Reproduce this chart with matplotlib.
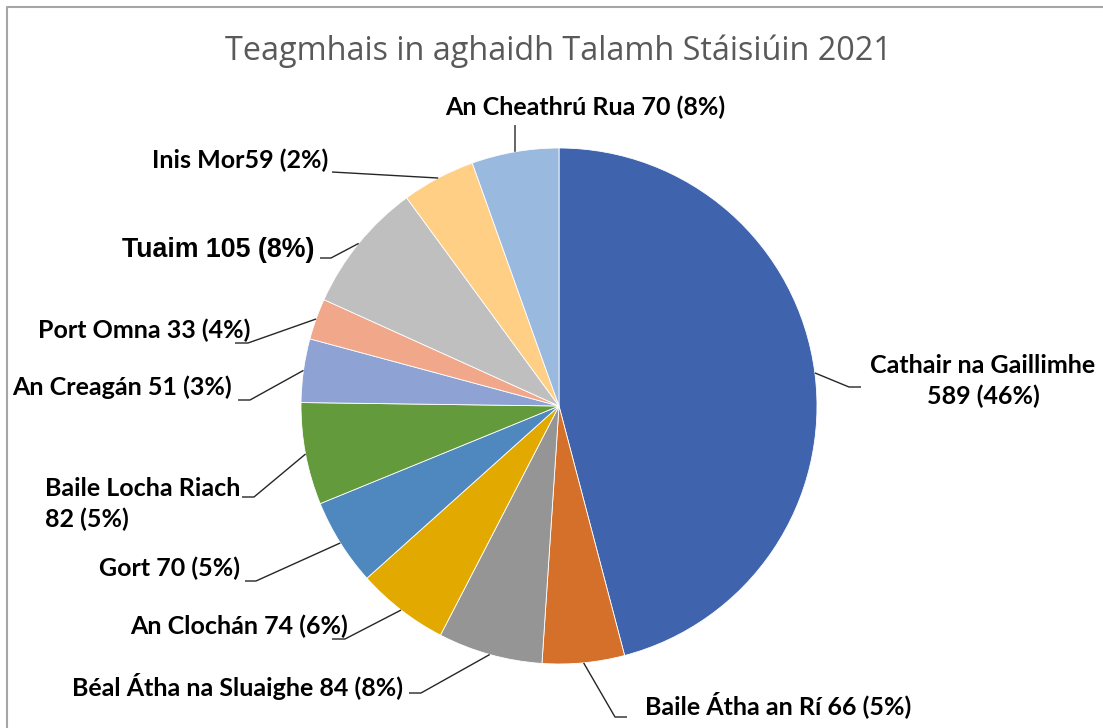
import numpy as np
import matplotlib.pyplot as plt
from matplotlib.lines import Line2D

# incidents per station ground, 2021
stations = ['Cathair na Gaillimhe', 'Baile Átha an Rí', 'Béal Átha na Sluaighe',
            'An Clochán', 'Gort', 'Baile Locha Riach', 'An Creagán', 'Port Omna',
            'Tuaim', 'Inis Mor', 'An Cheathrú Rua']
incidents = [589, 66, 84, 74, 70, 82, 51, 33, 105, 59, 70]
pct_text = ['46%', '5%', '8%', '6%', '5%', '5%', '3%', '4%', '8%', '2%', '8%']
name_sep = ['\n', ' ', ' ', ' ', ' ', '\n', ' ', ' ', ' ', '', ' ']
colours = ['#3F64AD', '#D5702B', '#959595', '#E2A900', '#4E88BE', '#639A3C',
           '#8EA2D3', '#F0A78A', '#BFBFBF', '#FFCF86', '#9AB9DF']

W, H = 1103, 728

# label layout in pixels (y measured from top): text anchor, alignment, leader elbow, leader end
layout = {
    'Cathair na Gaillimhe': dict(xy=(983, 381), ha='center', elbow=(849, 387), end=(861, 387)),
    'Baile Átha an Rí': dict(xy=(645, 705), ha='left', elbow=(615, 717), end=(627, 717)),
    'Béal Átha na Sluaighe': dict(xy=(403, 686), ha='right', elbow=(421, 693), end=(409, 693)),
    'An Clochán': dict(xy=(348, 626), ha='right', elbow=(345, 639), end=(332, 639)),
    'Gort': dict(xy=(240, 568), ha='right', elbow=(256, 581), end=(245, 581)),
    'Baile Locha Riach': dict(xy=(45, 504), ha='left', elbow=(254, 497), end=(242, 497)),
    'An Creagán': dict(xy=(232, 387), ha='right', elbow=(250, 400), end=(238, 400)),
    'Port Omna': dict(xy=(250, 330), ha='right', elbow=(248, 343), end=(235, 343)),
    'Tuaim': dict(xy=(314, 250), ha='right', elbow=(331, 258), end=(320, 258)),
    'Inis Mor': dict(xy=(328, 160), ha='right', elbow=(332, 172), end=(332, 172)),
    'An Cheathrú Rua': dict(xy=(585, 107), ha='center', elbow=(515, 125), end=(515, 125)),
}


def py(y):
    return H - y


fig = plt.figure(figsize=(W / 100, H / 100), dpi=100)
ax = fig.add_axes([0, 0, 1, 1])

centre = (559, py(406))
radius = 258
wedges, _ = ax.pie(incidents, colors=colours, startangle=90, counterclock=False,
                   center=centre, radius=radius, frame=True,
                   wedgeprops=dict(edgecolor='white', linewidth=0.6))
ax.set_xlim(0, W)
ax.set_ylim(0, H)
ax.set_aspect('equal')
ax.axis('off')

for w, name, val, pct, sep in zip(wedges, stations, incidents, pct_text, name_sep):
    lay = layout[name]
    mid = np.deg2rad((w.theta1 + w.theta2) / 2)
    x0 = centre[0] + radius * np.cos(mid)
    y0 = centre[1] + radius * np.sin(mid)
    ex, ey = lay['elbow']
    nx, ny = lay['end']
    ax.plot([x0, ex, nx], [y0, py(ey), py(ny)], color='#262626', lw=1.0,
            solid_capstyle='butt')
    label = f'{name}{sep}{val} ({pct})'
    if name == 'Tuaim':
        font = dict(family='Liberation Sans', fontsize=19.3)
    else:
        font = dict(family='Lato', fontsize=18)
    ax.text(lay['xy'][0], py(lay['xy'][1]), label, ha=lay['ha'], va='center',
            multialignment=lay['ha'], fontweight='bold', color='black',
            linespacing=1.35, **font)

ax.text(558, py(51), 'Teagmhais in aghaidh Talamh Stáisiúin 2021', ha='center',
        va='center', fontsize=23.3, color='#595959', family='Open Sans')

# chart frame (top and left edges visible)
fig.add_artist(Line2D([7 / W, 7 / W, 1], [0, 1 - 7 / H, 1 - 7 / H],
                      color='#A6A6A6', lw=1.5, transform=fig.transFigure))

fig.savefig('out.png', dpi=100)
